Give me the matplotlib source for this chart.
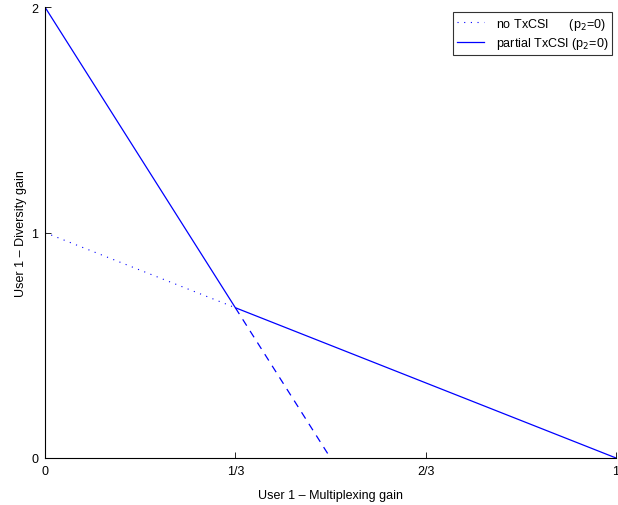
import numpy as np
import matplotlib.pyplot as plt

plt.rcParams['font.family'] = ['Liberation Sans', 'DejaVu Sans']

# data
r_no = [0, 1/3]
d_no = [1, 2/3]
r_partial = [0, 1/3, 1]
d_partial = [2, 2/3, 0]
r_dash = [1/3, 0.5]
d_dash = [2/3, 0]

xticks = [0, 1/3, 2/3, 1]
xlabels = ['0', '1/3', '2/3', '1']
yticks = [0, 1, 2]

fig = plt.figure(figsize=(6.18, 5.06), dpi=100)
ax = fig.add_axes([0.0728, 0.0929, 0.924, 0.891])

ax.plot(r_no, d_no, color='blue', lw=0.8, ls=(0, (1, 5)), label='no TxCSI      (p$_2$=0)')
ax.plot(r_partial, d_partial, '-', color='blue', lw=0.9, label='partial TxCSI (p$_2$=0)')
ax.plot(r_dash, d_dash, '--', color='blue', lw=0.9, dashes=(6, 5))

ax.set_xlim(0, 1)
ax.set_ylim(0, 2)
ax.set_xticks(xticks)
ax.set_xticklabels(xlabels)
ax.set_yticks(yticks)
ax.tick_params(direction='in', length=4, labelsize=9, width=0.6, pad=5)
for s in ['top', 'right']:
    ax.spines[s].set_visible(False)
for s in ['left', 'bottom']:
    ax.spines[s].set_linewidth(0.8)

ax.set_xlabel('User 1 \u2013 Multiplexing gain', fontsize=9, labelpad=9)
ax.set_ylabel('User 1 \u2013 Diversity gain', fontsize=9, labelpad=3)

leg = ax.legend(loc='upper right', fontsize=9, frameon=True, fancybox=False,
                edgecolor='black', handlelength=2.2, handletextpad=0.9,
                borderpad=0.3, labelspacing=0.25, borderaxespad=0,
                bbox_to_anchor=(0.993, 0.989))
leg.get_frame().set_linewidth(0.8)

fig.savefig('out.png', dpi=100)
